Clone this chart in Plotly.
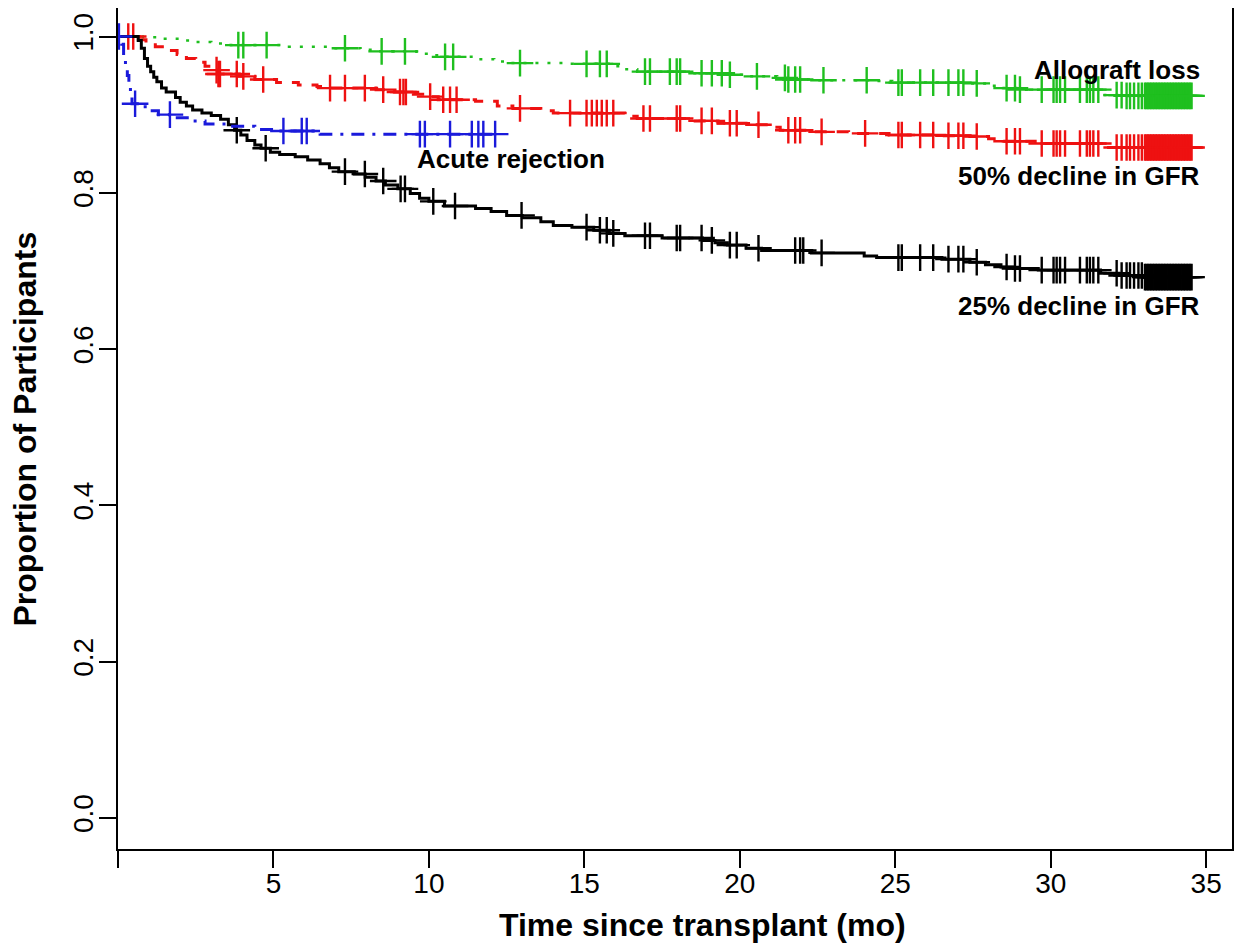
import numpy as np
import plotly.graph_objects as go

# ---------------- data ----------------
# 25% decline in GFR (black, solid)
gfr25_t = [0, 0.65, 0.75, 0.85, 0.95, 1.05, 1.15, 1.25, 1.40, 1.55, 1.85, 2.0, 2.2, 2.4, 2.7, 3.0, 3.3,
           3.55, 3.75, 3.95, 4.15, 4.4, 4.6, 4.9, 5.2, 5.7, 6.1, 6.5, 6.8, 7.1, 7.6, 7.95, 8.3, 8.6,
           9.0, 9.4, 9.7, 10.0, 10.5, 11.5, 12.0, 12.5, 13.0, 13.6, 14.0, 14.6, 15.3, 15.8, 16.3,
           17.5, 18.8, 19.2, 19.6, 20.2, 20.7, 22.3, 24.0, 24.4, 26.5, 27.4, 27.9, 28.4, 28.8, 29.6,
           31.6, 32.2, 33.0, 34.53]
gfr25_s = [1.0, 0.995, 0.985, 0.972, 0.962, 0.955, 0.948, 0.942, 0.934, 0.929, 0.922, 0.916, 0.911,
           0.906, 0.902, 0.899, 0.894, 0.887, 0.880, 0.874, 0.867, 0.861, 0.857, 0.852, 0.849, 0.846,
           0.842, 0.837, 0.832, 0.827, 0.824, 0.820, 0.815, 0.810, 0.805, 0.799, 0.793, 0.789, 0.783,
           0.780, 0.776, 0.771, 0.768, 0.763, 0.758, 0.756, 0.752, 0.748, 0.745, 0.742, 0.739, 0.736,
           0.733, 0.729, 0.726, 0.723, 0.719, 0.717, 0.715, 0.711, 0.708, 0.705, 0.703, 0.701, 0.697,
           0.694, 0.692, 0.692]

tail_censor = [29.01, 29.71, 30.09, 30.19, 30.30, 30.46, 30.94, 31.16, 31.26, 31.37, 31.53, 32.12,
               32.28, 32.44, 32.55, 32.68, 32.82, 32.93,
               33.03, 33.08, 33.13, 33.18, 33.23, 33.28, 33.33, 33.38, 33.43, 33.48, 33.53, 33.58,
               33.63, 33.68, 33.73, 33.78, 33.83, 33.88, 33.93, 33.98, 34.03, 34.08, 34.13, 34.18,
               34.23, 34.28, 34.33, 34.38, 34.43, 34.48, 34.53]

gfr25_c = [3.82, 4.75, 7.30, 7.94, 8.53, 9.09, 9.23, 10.14, 10.84, 12.98, 15.07, 15.50, 15.72, 15.93,
           16.95, 17.11, 17.97, 18.08, 18.77, 19.10, 19.68, 19.90, 20.60, 21.78, 21.94, 22.04, 22.63,
           25.10, 25.21, 25.80, 26.22, 26.71, 27.03, 27.19, 27.62, 28.58, 28.85] + tail_censor

# 50% decline in GFR (red, dashed)
gfr50_t = [0, 0.6, 0.9, 1.2, 1.5, 1.9, 2.2, 2.5, 2.8, 3.05, 3.2, 3.9, 4.4, 5.1, 5.8, 6.4, 6.8, 8.3,
           8.9, 9.5, 9.9, 10.3, 11.5, 12.2, 12.7, 13.6, 14.0, 16.3, 16.7, 18.5, 19.3, 20.2, 20.9,
           21.3, 22.4, 23.5, 24.8, 26.5, 27.4, 28.0, 28.4, 29.5, 31.6, 34.53]
gfr50_s = [1.0, 0.996, 0.992, 0.987, 0.982, 0.977, 0.972, 0.967, 0.962, 0.957, 0.952, 0.949, 0.945,
           0.941, 0.938, 0.936, 0.934, 0.932, 0.929, 0.926, 0.923, 0.919, 0.917, 0.911, 0.908, 0.905,
           0.902, 0.898, 0.895, 0.892, 0.889, 0.887, 0.884, 0.880, 0.878, 0.876, 0.874, 0.873, 0.872,
           0.869, 0.866, 0.863, 0.858, 0.858]
gfr50_c = [0.33, 0.49, 3.17, 3.23, 3.28, 3.82, 4.03, 4.67, 6.82, 7.30, 7.94, 8.53, 9.07, 9.18, 9.26,
           10.04, 10.46, 10.68, 10.89, 12.93, 14.54, 15.07, 15.24, 15.40, 15.56, 15.72, 15.93, 16.90,
           17.11, 17.97, 18.08, 18.77, 19.10, 19.68, 19.90, 20.60, 21.56, 21.78, 21.94, 22.63, 24.03,
           25.10, 25.21, 25.80, 26.22, 26.71, 27.03, 27.19, 27.62, 28.58, 28.85] + tail_censor

# Allograft loss (green, dotted)
graft_t = [0, 0.8, 1.4, 2.0, 2.5, 3.0, 3.5, 5.5, 7.0, 7.8, 8.3, 9.6, 10.1, 10.4, 11.5, 12.1, 12.6,
           14.3, 15.9, 16.3, 16.7, 18.5, 19.5, 20.3, 21.2, 21.5, 22.4, 24.4, 24.9, 27.4, 28.0, 28.3,
           29.0, 31.6, 32.4, 34.53]
graft_s = [1.0, 0.999, 0.997, 0.995, 0.993, 0.991, 0.989, 0.987, 0.985, 0.983, 0.981, 0.978, 0.976,
           0.974, 0.971, 0.968, 0.966, 0.965, 0.962, 0.958, 0.955, 0.953, 0.951, 0.949, 0.947, 0.945,
           0.944, 0.943, 0.941, 0.940, 0.937, 0.934, 0.932, 0.925, 0.924, 0.924]
graft_c = [3.87, 4.03, 4.78, 7.30, 8.48, 9.23, 10.52, 10.78, 12.93, 15.07, 15.50, 15.72, 16.95, 17.11,
           17.75, 17.97, 18.08, 18.77, 19.10, 19.42, 19.68, 20.55, 21.45, 21.56, 21.78, 21.94, 22.69,
           24.08, 25.10, 25.21, 25.80, 26.22, 26.71, 27.03, 27.19, 27.62, 28.58, 28.85] + tail_censor

# Acute rejection (blue, dash-dot)
acute_t = [0, 0.12, 0.18, 0.24, 0.30, 0.35, 0.40, 0.45, 0.8, 1.1, 1.3, 1.8, 2.3, 2.8, 3.6, 4.4, 5.0,
           6.5, 12.13]
acute_s = [1.0, 0.99, 0.975, 0.962, 0.950, 0.938, 0.926, 0.914, 0.910, 0.905, 0.900, 0.896, 0.892,
           0.888, 0.885, 0.881, 0.879, 0.875, 0.875]
acute_c = [0.03, 0.55, 1.67, 5.32, 5.91, 6.07, 9.71, 9.87, 10.68, 11.38, 11.59, 11.75, 12.13]

x_ticks = [0, 5, 10, 15, 20, 25, 30, 35]
x_tick_text = ["", "5", "10", "15", "20", "25", "30", "35"]
y_ticks = [0.0, 0.2, 0.4, 0.6, 0.8, 1.0]
y_tick_text = ["0.0", "0.2", "0.4", "0.6", "0.8", "1.0"]

labels = [
    ("Allograft loss", 34.85, 0.957, "right"),
    ("50% decline in GFR", 34.85, 0.8215, "right"),
    ("25% decline in GFR", 34.85, 0.655, "right"),
    ("Acute rejection", 9.55, 0.843, "left"),
]


def at_times(t, s, c):
    t = np.asarray(t)
    s = np.asarray(s)
    idx = np.searchsorted(t, np.asarray(c), side="right") - 1
    return s[np.clip(idx, 0, len(s) - 1)]


series = [
    (graft_t, graft_s, graft_c, "#1fbf1f", "3px,9px", 2.5),
    (gfr50_t, gfr50_s, gfr50_c, "#ee1111", "12px,10px", 3),
    (gfr25_t, gfr25_s, gfr25_c, "#000000", "solid", 3),
    (acute_t, acute_s, acute_c, "#1a1adb", "3px,8px,13px,8px", 3),
]

fig = go.Figure()
for t, s, c, col, dash, w in series:
    fig.add_trace(go.Scatter(x=t, y=s, mode="lines", line=dict(color=col, width=w, dash=dash, shape="hv"),
                             showlegend=False, hoverinfo="skip"))
    fig.add_trace(go.Scatter(x=c, y=at_times(t, s, c), mode="markers",
                             marker=dict(symbol="cross-thin", size=19, line=dict(color=col, width=2.4)),
                             showlegend=False, hoverinfo="skip"))

for txt, x, y, anc in labels:
    fig.add_annotation(x=x, y=y, text=f"<b>{txt}</b>", showarrow=False, xanchor=anc, yanchor="middle",
                       font=dict(family="Liberation Sans, Arial, sans-serif", size=26, color="black"))

fig.add_annotation(xref="paper", yref="paper", x=0.525, y=-0.0905, text="<b>Time since transplant (mo)</b>",
                   showarrow=False, xanchor="center", yanchor="middle",
                   font=dict(family="Liberation Sans, Arial, sans-serif", size=32, color="black"))
fig.add_annotation(xref="paper", yref="paper", x=-0.0835, y=0.5, text="<b>Proportion of Participants</b>",
                   showarrow=False, xanchor="center", yanchor="middle", textangle=-90,
                   font=dict(family="Liberation Sans, Arial, sans-serif", size=32, color="black"))

axis_common = dict(showgrid=False, zeroline=False, showline=True, linecolor="black", linewidth=2,
                   mirror=True, ticks="outside", ticklen=17, tickwidth=2, tickcolor="black",
                   automargin=False,
                   tickfont=dict(family="Liberation Sans, Arial, sans-serif", size=28, color="black"))

# the page body adds an 8 px offset, so margins are shifted to keep the plot box in place
fig.update_layout(
    width=1245, height=949,
    margin=dict(l=110, r=21, t=0, b=108),
    paper_bgcolor="white", plot_bgcolor="white",
    xaxis=dict(range=[0, 35.83], tickvals=x_ticks, ticktext=x_tick_text, ticklabelstandoff=-9,
               **axis_common),
    yaxis=dict(range=[-0.04, 1.0365], tickvals=y_ticks, ticktext=y_tick_text, tickangle=-90,
               ticklabelstandoff=-5, **axis_common),
)

fig.write_html("out.html")
